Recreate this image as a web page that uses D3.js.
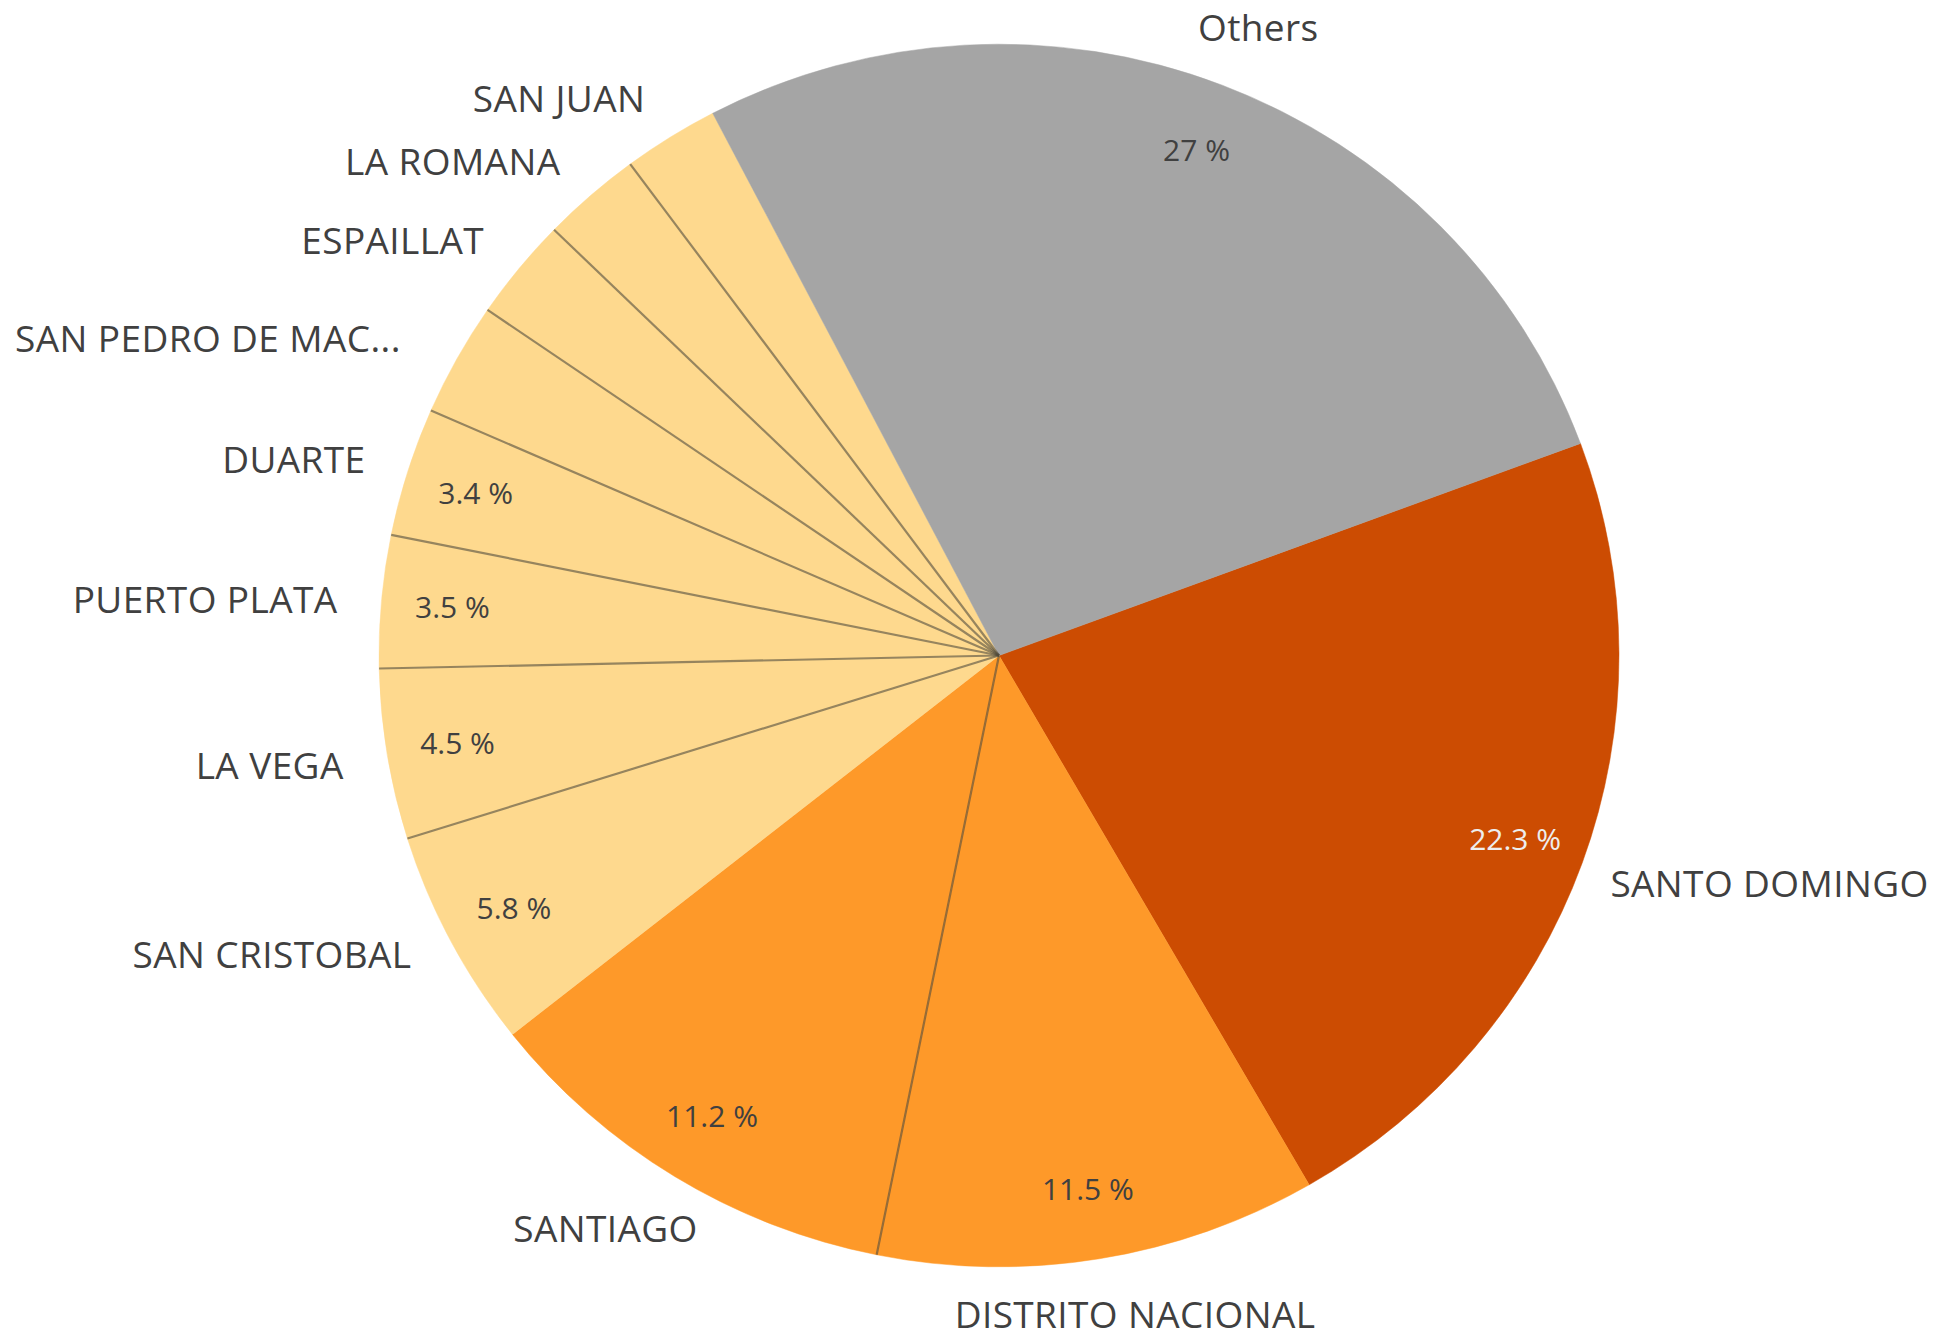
<!DOCTYPE html>
<html>
<head>
<meta charset="utf-8">
<script src="https://cdn.jsdelivr.net/npm/d3@7"></script>
<style>
body { margin: 0; background: #fff; }
svg text { font-family: "Open Sans", sans-serif; fill: #404040; }
</style>
</head>
<body>
<script>

var categories = ["SANTO DOMINGO", "DISTRITO NACIONAL", "SANTIAGO", "SAN CRISTOBAL", "LA VEGA",
  "PUERTO PLATA", "DUARTE", "SAN PEDRO DE MACORIS", "ESPAILLAT", "LA ROMANA", "SAN JUAN", "Others"]
var shares = [22.3, 11.5, 11.2, 5.8, 4.5, 3.5, 3.4, 3.0, 2.7, 2.6, 2.5, 27]
var minShownPct = 3.4   // smaller slices carry no % label

var W = 1937, H = 1339,
  cx = 999, cy = 655.5,
  r = 620, ry = 0.986,        // the source pie is very slightly squashed
  startDeg = 69.7,
  labelR = 660, pctR = 0.885 * r,
  labelSize = 37, pctSize = 30

// small hand nudges so outer labels sit where the original put them
var labelNudge = {
  "SAN CRISTOBAL": [0, -12],
  "SAN PEDRO DE MACORIS": [-17, 0]
}

var data = categories.map(function(c, i){ return {name: c, value: shares[i]} })

var svg = d3.select("body").append("svg").attr("width", W).attr("height", H)

var color = d3.scaleThreshold().domain([10, 20]).range(["#fed98e", "#fe9929", "#cc4c02"])
function fill(d){ return d.name === "Others" ? "#a5a5a5" : color(d.value) }

var a0 = startDeg * Math.PI / 180
var pie = d3.pie().value(function(d){ return d.value }).sort(null)
  .startAngle(a0).endAngle(a0 + 2 * Math.PI)
var arcs = pie(data)
var arc = d3.arc().innerRadius(0).outerRadius(r)

var g = svg.append("g").attr("transform", `translate(${cx},${cy}) scale(1,${ry})`)

g.selectAll("path.slice").data(arcs).enter().append("path")
  .attr("class", "slice")
  .attr("d", arc)
  .attr("fill", function(d){ return fill(d.data) })
  .attr("stroke", function(d){ return fill(d.data) })
  .attr("stroke-width", 0.5)

// separator lines between neighbouring slices of the same colour
var seps = arcs.filter(function(d, i){
  var prev = arcs[(i - 1 + arcs.length) % arcs.length]
  return fill(prev.data) === fill(d.data)
})
g.selectAll("line.sep").data(seps).enter().append("line")
  .attr("class", "sep")
  .attr("x1", 0).attr("y1", 0)
  .attr("x2", function(d){ return d3.pointRadial(d.startAngle, r)[0] })
  .attr("y2", function(d){ return d3.pointRadial(d.startAngle, r)[1] })
  .attr("stroke", "rgba(80,75,60,0.6)")
  .attr("stroke-width", 2.2)

function mid(d){ return (d.startAngle + d.endAngle) / 2 }

// % labels inside
var pctCap = pctSize * 0.714
svg.selectAll("text.pct").data(arcs.filter(function(d){ return d.data.value >= minShownPct }))
  .enter().append("text")
  .attr("class", "pct")
  .attr("text-anchor", "middle")
  .attr("font-size", pctSize)
  .attr("x", function(d){ return cx + d3.pointRadial(mid(d), pctR)[0] })
  .attr("y", function(d){ return cy + d3.pointRadial(mid(d), pctR)[1] * ry + pctCap / 2 })
  .style("fill", function(d){ return d3.hsl(fill(d.data)).l < 0.45 ? "#eeeeee" : "#404040" })
  .text(function(d){ return d.data.value + " %" })

// category labels outside
var cap = labelSize * 0.714
svg.selectAll("text.lab").data(arcs).enter().append("text")
  .attr("class", "lab")
  .attr("font-size", labelSize)
  .attr("letter-spacing", 0.4)
  .text(function(d){ return d.data.name })
  .each(function(d){
    var t = d3.select(this),
      a = mid(d), s = Math.sin(a), c = Math.cos(a),
      ax = cx + labelR * s, ay = cy - labelR * c,
      w = this.getComputedTextLength(),
      nudge = labelNudge[d.data.name] || [0, 0],
      right, base

    if (s < -0.3 && c > -0.8) {
      // crowded left side: right-aligned against the pie, centred on the angle
      right = ax - 4 + nudge[0]
      base = ay + cap / 2 + 3 + nudge[1]
    } else {
      var left = ax - w * (1 - s) / 2
      right = left + w + nudge[0]
      base = ay - cap * (1 + c) / 2 + cap + nudge[1]
    }
    base = Math.min(base, H - 11)

    var txt = d.data.name
    while (txt.length > 1 && right - this.getComputedTextLength() < 12) {
      txt = txt.slice(0, -1)
      t.text(txt.trim() + "...")
    }
    t.attr("text-anchor", "end").attr("x", right).attr("y", base)
  })

</script>
</body>
</html>
